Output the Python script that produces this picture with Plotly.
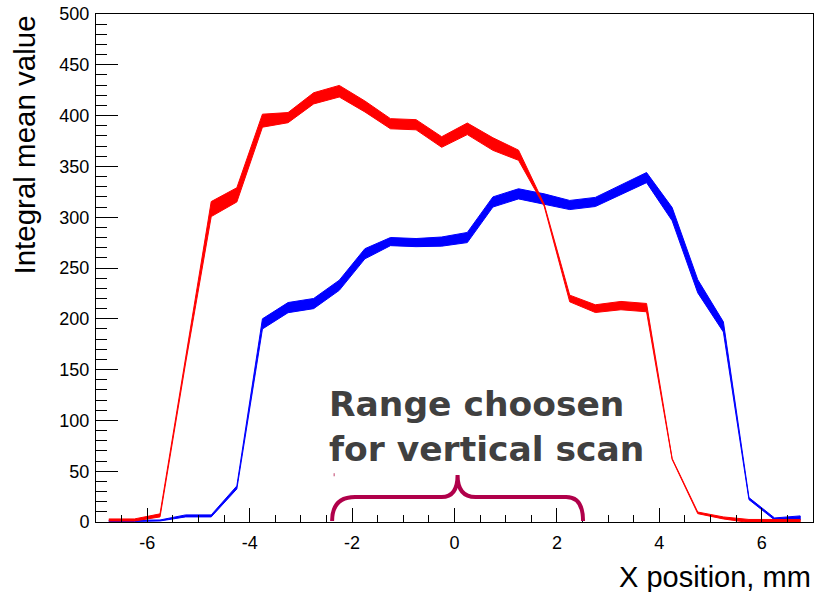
import plotly.graph_objects as go

# ---- data ----
x_mm = [-6.75, -6.25, -5.75, -5.25, -4.75, -4.25, -3.75, -3.25, -2.75, -2.25,
        -1.75, -1.25, -0.75, -0.25, 0.25, 0.75, 1.25, 1.75, 2.25, 2.75,
        3.25, 3.75, 4.25, 4.75, 5.25, 5.75, 6.25, 6.75]
red_val = [2, 2, 6.5, 158, 308, 322, 395, 398, 417, 424,
           409, 392, 391, 374, 387, 372, 361, 312, 220, 210,
           213, 211, 62, 9, 4, 1, 1, 1]
red_err = [1, 1, 1.5, 1.5, 7.4, 7, 6.4, 5, 5.5, 5.7,
           5.4, 5, 5, 5.2, 5.7, 6.2, 5, 1, 3.3, 3.8,
           4.1, 4.1, 0.5, 0.8, 1, 1.5, 1.5, 1.5]
blue_val = [1, 1, 1.5, 6, 6, 34, 195, 211, 215, 233,
            264, 276, 275, 276, 280, 315, 323, 318, 312, 315,
            327, 339, 303, 232, 192, 23, 3, 4]
blue_err = [0.5, 0.5, 0.5, 1, 1, 1.5, 5, 5, 5, 5,
            5, 4, 4, 4.5, 5, 5, 5, 5, 4.5, 4.5,
            5, 5, 6.5, 6.5, 5, 1, 1, 2]

x_ticks = [-6, -4, -2, 0, 2, 4, 6]
y_ticks = [0, 50, 100, 150, 200, 250, 300, 350, 400, 450, 500]

# annotation brace (data units)
brace_xl, brace_xm, brace_xr = -2.39, 0.06, 2.51
brace_y0, brace_ybar, brace_ytip = 1, 24.6, 46.3
brace_r = 0.45

def band(xs, ys, es):
    up = [y + e for y, e in zip(ys, es)]
    lo = [y - e for y, e in zip(ys, es)]
    return xs + xs[::-1], up + lo[::-1]

fig = go.Figure()
for vals, errs, col in [(blue_val, blue_err, "#0000ff"), (red_val, red_err, "#ff0000")]:
    bx, by = band(x_mm, vals, errs)
    fig.add_trace(go.Scatter(x=bx, y=by, mode="lines", fill="toself",
                             fillcolor=col, line=dict(color=col, width=1),
                             showlegend=False, hoverinfo="skip"))

brace_path = (
    f"M {brace_xl},{brace_y0} "
    f"Q {brace_xl},{brace_ybar} {brace_xl + brace_r},{brace_ybar} "
    f"L {brace_xm - 0.31},{brace_ybar} "
    f"Q {brace_xm},{brace_ybar} {brace_xm},{brace_ytip} "
    f"Q {brace_xm},{brace_ybar} {brace_xm + 0.35},{brace_ybar} "
    f"L {brace_xr - 0.33},{brace_ybar} "
    f"Q {brace_xr},{brace_ybar} {brace_xr},{brace_y0}"
)
fig.add_shape(type="path", path=brace_path, xref="x", yref="y",
              line=dict(color="#b0004a", width=4))
fig.add_shape(type="line", xref="x", yref="y", x0=-2.35, x1=-2.35, y0=45, y1=48,
              line=dict(color="#c0406a", width=1))

fig.add_annotation(x=-2.49, y=94, xref="x", yref="y", xanchor="left", yanchor="middle",
                   text="<b>Range choosen<br>for vertical scan</b>", showarrow=False, align="left",
                   font=dict(family="DejaVu Sans", size=34.5, color="#404040"))

fig.add_annotation(x=1, y=0, xref="paper", yref="paper", xanchor="right", yanchor="top",
                   xshift=0, yshift=-37, text="X position, mm", showarrow=False,
                   font=dict(family="Liberation Sans", size=29, color="black"))
fig.add_annotation(x=0, y=1, xref="paper", yref="paper", xanchor="center", yanchor="top",
                   xshift=-72, yshift=0, text="Integral mean value", showarrow=False,
                   textangle=-90,
                   font=dict(family="Liberation Sans", size=29.5, color="black"))

fig.update_layout(
    width=816, height=592,
    margin=dict(l=96, r=3, t=14, b=70),
    plot_bgcolor="white", paper_bgcolor="white",
    font=dict(family="Liberation Sans", size=18, color="black"),
    xaxis=dict(range=[-7, 7], tickvals=x_ticks, ticktext=[str(v) for v in x_ticks],
               ticks="inside", ticklen=14, tickcolor="black", tickwidth=1,
               minor=dict(dtick=0.5, tick0=0, ticklen=7, ticks="inside", tickcolor="black"),
               showline=True, linecolor="black", linewidth=1, mirror=True,
               showgrid=False, zeroline=False, ticklabelstandoff=4),
    yaxis=dict(range=[0, 500], tickvals=y_ticks, ticktext=[str(v) for v in y_ticks],
               ticks="inside", ticklen=22, tickcolor="black", tickwidth=1,
               minor=dict(dtick=10, tick0=0, ticklen=11, ticks="inside", tickcolor="black"),
               showline=True, linecolor="black", linewidth=1, mirror=True,
               showgrid=False, zeroline=False, ticklabelstandoff=2),
)

fig.write_html("out.html")
